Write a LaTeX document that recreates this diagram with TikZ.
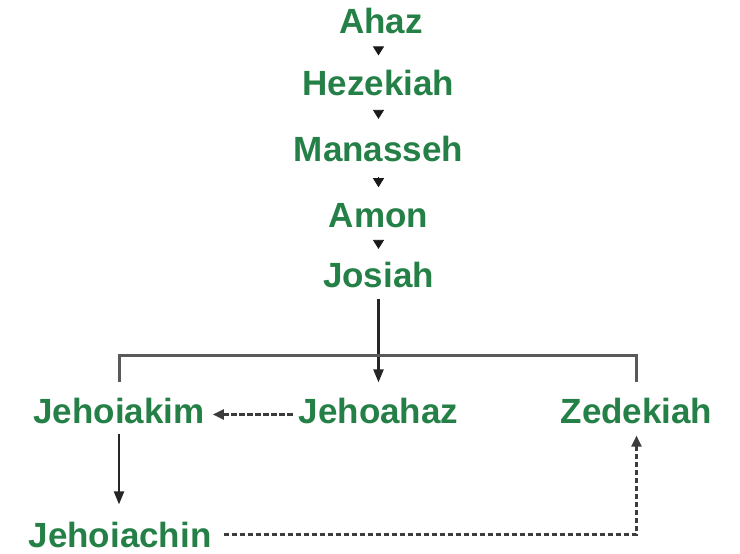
\documentclass[tikz,border=0pt]{standalone}
\usepackage{fontspec}
\setmainfont{Liberation Sans}
\usetikzlibrary{arrows.meta,calc}
\definecolor{namegreen}{RGB}{36,128,70}
\definecolor{linegray}{RGB}{60,60,60}
\begin{document}
\begin{tikzpicture}[x=1pt,y=-1pt,
  namelabel/.style={text=namegreen,font=\fontsize{35}{40}\selectfont\bfseries,inner sep=0pt,anchor=base},
  smalltri/.style={-{Triangle[width=11pt,length=9pt]},line width=0.8pt,black!90},
  solidarrow/.style={-{Triangle[width=10pt,length=13pt]},line width=2.2pt,black!85},
  dasharrow/.style={-{Triangle[width=10pt,length=11pt]},line width=2.4pt,linegray,dash pattern=on 5.5pt off 2.5pt},
  bracket/.style={line width=3pt,black!65}]
\useasboundingbox (0,0) rectangle (740,554);
\node[namelabel] (ahaz) at (381,33) {Ahaz};
\node[namelabel] (hez) at (378.5,95) {Hezekiah};
\node[namelabel] (man) at (378.5,161) {Manasseh};
\node[namelabel] (amon) at (378.5,227) {Amon};
\node[namelabel] (jos) at (378.5,287) {Josiah};
\node[namelabel] (jk) at (119,423) {Jehoiakim};
\node[namelabel] (ja) at (378.5,423) {Jehoahaz};
\node[namelabel] (zd) at (636.5,423) {Zedekiah};
\node[namelabel] (jc) at (120,547) {Jehoiachin};
% small triangles
\draw[smalltri,shorten <=13.5pt,shorten >=14pt] (ahaz.south -| hez.south) -- (hez.north);
\draw[smalltri,shorten <=16.5pt,shorten >=16.5pt] (hez.south) -- (man.north);
\draw[smalltri,shorten <=15.5pt,shorten >=15.5pt] (man.south) -- (amon.north);
\draw[smalltri,shorten <=15.5pt,shorten >=12.5pt] (amon.south) -- (jos.north);
% Josiah to Jehoahaz
\draw[solidarrow,shorten <=11pt,shorten >=15pt] (jos.south) -- (ja.north);
% bracket
\coordinate (barL) at ($(jk.north)+(0,-42)$);
\draw[bracket] ($(jk.north)+(0,-15)$) -- (barL) -- (barL -| zd.north) -- ($(zd.north)+(0,-15)$);
% Jehoahaz to Jehoiakim
\draw[dasharrow,shorten <=6pt,shorten >=8pt] ([yshift=-4pt]ja.west) -- ([yshift=-4pt]jk.east);
% Jehoiakim to Jehoiachin
\draw[solidarrow,shorten <=10pt,shorten >=17pt] (jk.south) -- (jk.south |- jc.north);
% Jehoiachin to Zedekiah
\draw[dasharrow,shorten >=12pt] ([xshift=12pt]jc.east) -| (zd.south);
\end{tikzpicture}
\end{document}
